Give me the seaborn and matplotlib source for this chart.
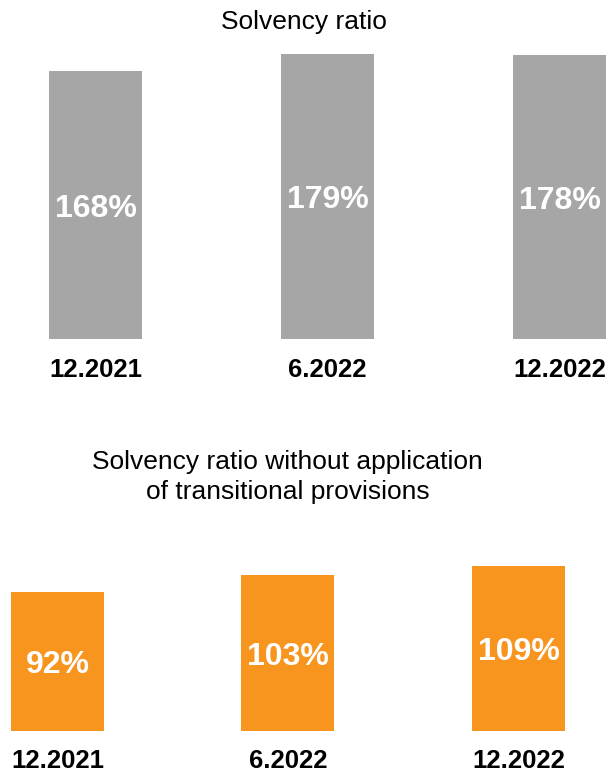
import matplotlib
matplotlib.use("Agg")
import matplotlib.pyplot as plt
import seaborn as sns
import pandas as pd

# Data
periods = ["12.2021", "6.2022", "12.2022"]
solvency = [168, 179, 178]
solvency_no_transitional = [92, 103, 109]

title_top = "Solvency ratio"
title_bottom = "Solvency ratio without application\nof transitional provisions"

GREY = "#A6A6A6"
ORANGE = "#F7951F"

sns.set_theme(style="white")
plt.rcParams["font.family"] = ["Liberation Sans", "DejaVu Sans"]

W, H = 608, 774
fig = plt.figure(figsize=(W / 100, H / 100), dpi=100)


def px_axes(left, right, bottom, top):
    """Axes placed with pixel coordinates measured from the top-left corner."""
    return fig.add_axes([left / W, 1 - bottom / H, (right - left) / W, (bottom - top) / H])


def draw_panel(ax, values, color, first_center, spacing, bar_px, ymax, scale):
    df = pd.DataFrame({"period": periods, "value": values})
    sns.barplot(data=df, x="period", y="value", color=color, saturation=1,
                width=bar_px / spacing, ax=ax, edgecolor="none")
    ax.set_xlim(-first_center / spacing, (W - first_center) / spacing)
    ax.set_ylim(0, ymax)
    ax.axis("off")
    # value labels sit in the visual middle of each bar
    for i, v in enumerate(values):
        ax.text(i, v / 2 - 3.5 / scale, f"{v}%", ha="center", va="center",
                color="white", fontsize=23, fontweight="bold")


# Top panel
top_base, top_scale = 339, 1.594
top_ymax = 200
ax1 = px_axes(0, W, top_base, top_base - top_ymax * top_scale)
draw_panel(ax1, solvency, GREY, 95.5, 232, 93, top_ymax, top_scale)
for i, p in enumerate(periods):
    ax1.text(i, -31 / top_scale, p, ha="center", va="center", fontsize=18.5,
             fontweight="bold", color="black")

# Bottom panel
bot_base, bot_scale = 731, 1.51
bot_ymax = 120
ax2 = px_axes(0, W, bot_base, bot_base - bot_ymax * bot_scale)
draw_panel(ax2, solvency_no_transitional, ORANGE, 57.5, 230.5, 93, bot_ymax, bot_scale)
for i, p in enumerate(periods):
    ax2.text(i, -30 / bot_scale, p, ha="center", va="center", fontsize=18.5,
             fontweight="bold", color="black")

# Titles
fig.text(304 / W, 1 - 22 / H, title_top, ha="center", va="center",
         fontsize=19, color="black")
fig.text(287.5 / W, 1 - 477 / H, title_bottom, ha="center", va="center",
         fontsize=19, color="black", linespacing=1.35)

fig.savefig("out.png", dpi=100)
